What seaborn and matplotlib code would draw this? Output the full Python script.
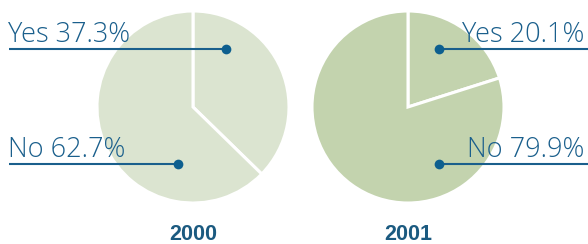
import matplotlib
matplotlib.use("Agg")
import matplotlib.pyplot as plt
import seaborn as sns

# data
years = ["2000", "2001"]
categories = ["Yes", "No"]
yes_pct = [37.3, 20.1]
no_pct = [62.7, 79.9]
pie_colors = ["#dbe4d0", "#c3d3ae"]

label_color = "#1a5f8c"
year_color = "#1b5a80"

sns.set_theme(style="white")
plt.rcParams["font.family"] = ["Open Sans", "DejaVu Sans"]

W, H = 588, 244
fig = plt.figure(figsize=(W / 100, H / 100), dpi=100)
ax = fig.add_axes([0, 0, 1, 1])
ax.set_xlim(0, W)
ax.set_ylim(0, H)
ax.set_aspect("equal")
ax.axis("off")

# pie layout (pixel space, y measured from top)
centers = [(193, 107), (408, 107)]
radius = 96
# leader dot offsets from centre for Yes / No
dot_offsets = [[(33, -58), (-15, 57)], [(31, -58), (31, 57)]]
text_rows = [42, 157]
line_rows = [49, 164]

for i, year in enumerate(years):
    cx, cy = centers[i]
    ax.pie([yes_pct[i], no_pct[i]], colors=[pie_colors[i]] * 2,
           startangle=90, counterclock=False,
           center=(cx, H - cy), radius=radius,
           wedgeprops=dict(edgecolor="white", linewidth=2.2))
    ax.text(cx, H - 235, year, ha="center", va="center", color=year_color,
            fontsize=15.5, fontweight="bold", family=["Liberation Sans"])
    vals = [yes_pct[i], no_pct[i]]
    for j, cat in enumerate(categories):
        dx, dy = dot_offsets[i][j]
        px, py = cx + dx, line_rows[j]
        label = f"{cat} {vals[j]:.1f}%"
        if i == 0:
            ax.plot([9, px], [H - py, H - py], color=label_color, lw=1.5,
                    solid_capstyle="butt")
            ax.text(8, H - text_rows[j], label, ha="left", va="baseline",
                    color=label_color, fontsize=19.5, fontweight="light")
        else:
            ax.plot([px, W], [H - py, H - py], color=label_color, lw=1.5,
                    solid_capstyle="butt")
            ax.text(584, H - text_rows[j], label, ha="right", va="baseline",
                    color=label_color, fontsize=19.5, fontweight="light")
        ax.plot(px, H - py, "o", color="#0d5f8f", ms=7, mew=0)

ax.set_xlim(0, W)
ax.set_ylim(0, H)
fig.savefig("out.png", dpi=100)
